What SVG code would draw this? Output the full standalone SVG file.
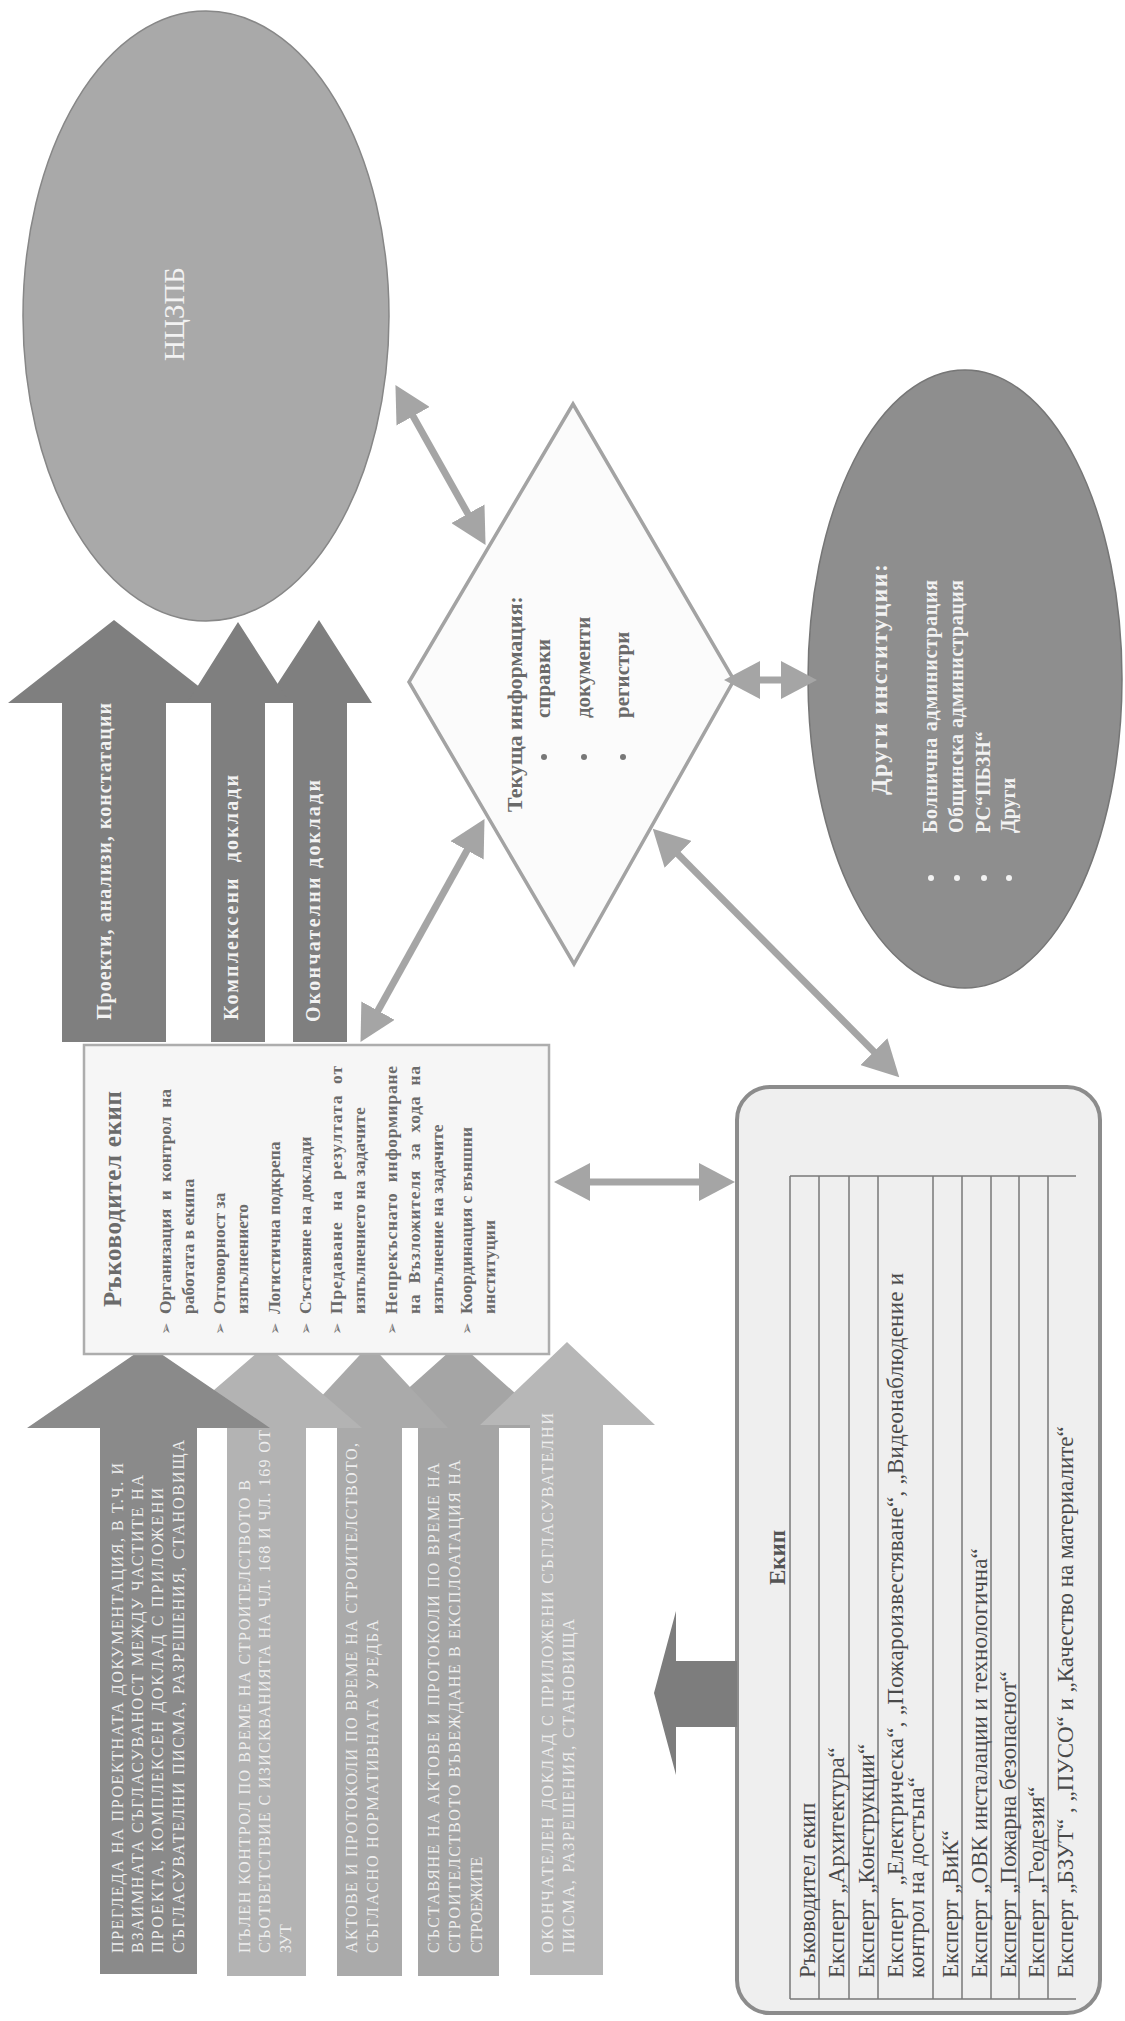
<svg xmlns="http://www.w3.org/2000/svg" width="1125" height="2021" viewBox="0 0 1125 2021">
<style>
text{font-family:"Liberation Serif","DejaVu Serif",serif}
.w{fill:#f2f2f2}
.b{font-weight:bold}
.ga{fill:#eeeeee;font-size:16px}
.rk{fill:#6b6b6b;font-weight:bold;font-size:17.5px}
.row{fill:#4a4a4a;font-size:23px}
.tl{stroke:#7a7a7a;stroke-width:1.5;fill:none}
.con{stroke:#a5a5a5;stroke-width:7;fill:none;marker-start:url(#ah);marker-end:url(#ah)}
.bul{fill:#777;font-size:15px;font-family:"DejaVu Sans",sans-serif}
</style>
<defs>
<marker id="ah" markerUnits="userSpaceOnUse" viewBox="0 0 36 38" refX="1" refY="19" markerWidth="36" markerHeight="38" orient="auto-start-reverse">
<path d="M0,0 L36,19 L0,38 z" fill="#a5a5a5"/>
</marker>
</defs>
<rect width="1125" height="2021" fill="#ffffff"/>

<g id="nczpb">
<ellipse cx="206" cy="316" rx="183" ry="305" fill="#a9a9a9" stroke="#878787" stroke-width="1.5"/>
<text class="w" transform="rotate(-90)" x="-361" y="184" font-size="29">НЦЗПБ</text>
</g>

<g id="drugi">
<ellipse cx="965" cy="679" rx="157" ry="309" fill="#8e8e8e" stroke="#767676" stroke-width="1.5"/>
<g transform="rotate(-90)" class="w b">
<text x="-795" y="887" font-size="24" textLength="231" lengthAdjust="spacing">Други институции:</text>
<text x="-833" y="937" font-size="20" textLength="253" lengthAdjust="spacing">Болнична администрация</text>
<text x="-833" y="963" font-size="20" textLength="253" lengthAdjust="spacing">Общинска администрация</text>
<text x="-833" y="990" font-size="20">РС“ПБЗН“</text>
<text x="-833" y="1015" font-size="20">Други</text>
</g>
<circle cx="931" cy="878" r="3" fill="#f2f2f2"/>
<circle cx="957" cy="878" r="3" fill="#f2f2f2"/>
<circle cx="984" cy="878" r="3" fill="#f2f2f2"/>
<circle cx="1009" cy="878" r="3" fill="#f2f2f2"/>
</g>

<g id="tekushta">
<polygon points="573,404 734,680 574,964 409,682" fill="#fbfbfb" stroke="#a3a3a3" stroke-width="3.5"/>
<g transform="rotate(-90)" fill="#6a6a6a" class="b">
<text x="-812" y="522" font-size="22">Текуща информация:</text>
<text x="-718" y="550" font-size="21">справки</text>
<text x="-718" y="590" font-size="21">документи</text>
<text x="-718" y="629" font-size="21">регистри</text>
</g>
<circle cx="544" cy="757" r="3" fill="#777"/>
<circle cx="584" cy="757" r="3" fill="#777"/>
<circle cx="623" cy="757" r="3" fill="#777"/>
</g>

<g id="izhodi">
<polygon points="62,1042 62,703 8,703 114,620 220,703 166,703 166,1042" fill="#7f7f7f"/>
<polygon points="293,1042 293,703 265,703 319,620 372,703 347,703 347,1042" fill="#7f7f7f"/>
<polygon points="211,1042 211,703 187,703 238,622 290,703 265,703 265,1042" fill="#7f7f7f"/>
<g transform="rotate(-90)" class="w b" font-size="20">
<text x="-1020" y="111" textLength="317" lengthAdjust="spacing">Проекти, анализи, констатации</text>
<text x="-1020" y="238" textLength="245" lengthAdjust="spacing" xml:space="preserve">Комплексени  доклади</text>
<text x="-1022" y="320" textLength="242" lengthAdjust="spacing">Окончателни доклади</text>
</g>
</g>

<g id="vhodi">
<g id="vhod-d">
<polygon points="418,1976 418,1428 364,1428 459,1343 554,1428 499,1428 499,1976" fill="#a5a5a5"/>
<g transform="rotate(-90)" class="ga">
<text x="-1953" y="439" textLength="490" lengthAdjust="spacing">СЪСТАВЯНЕ НА АКТОВЕ И ПРОТОКОЛИ ПО ВРЕМЕ  НА</text>
<text x="-1953" y="460" textLength="493" lengthAdjust="spacing">СТРОИТЕЛСТВОТО ВЪВЕЖДАНЕ В ЕКСПЛОАТАЦИЯ НА</text>
<text x="-1953" y="482">СТРОЕЖИТЕ</text>
</g>
</g>
<g id="vhod-c">
<polygon points="337,1976 337,1428 292,1428 370,1344 448,1428 402,1428 402,1976" fill="#aaaaaa"/>
<g transform="rotate(-90)" class="ga">
<text x="-1953" y="357" textLength="510" lengthAdjust="spacing">АКТОВЕ И ПРОТОКОЛИ ПО ВРЕМЕ НА СТРОИТЕЛСТВОТО,</text>
<text x="-1953" y="378" textLength="333" lengthAdjust="spacing">СЪГЛАСНО НОРМАТИВНАТА УРЕДБА</text>
</g>
</g>
<g id="vhod-b">
<polygon points="227,1976 227,1428 170,1428 266,1345 362,1428 306,1428 306,1976" fill="#b3b3b3"/>
<g transform="rotate(-90)" class="ga">
<text x="-1953" y="250" textLength="473" lengthAdjust="spacing">ПЪЛЕН КОНТРОЛ ПО ВРЕМЕ НА СТРОИТЕЛСТВОТО В</text>
<text x="-1953" y="270" textLength="523" lengthAdjust="spacing">СЪОТВЕТСТВИЕ С ИЗИСКВАНИЯТА НА ЧЛ. 168 И ЧЛ. 169 ОТ</text>
<text x="-1953" y="291">ЗУТ</text>
</g>
</g>
<g id="vhod-a">
<polygon points="100,1974 100,1428 27,1428 148,1345 270,1428 197,1428 197,1974" fill="#8a8a8a"/>
<g transform="rotate(-90)" class="ga">
<text x="-1953" y="123" textLength="490" lengthAdjust="spacing">ПРЕГЛЕДА НА ПРОЕКТНАТА ДОКУМЕНТАЦИЯ, В Т.Ч. И</text>
<text x="-1953" y="143" textLength="478" lengthAdjust="spacing">ВЗАИМНАТА СЪГЛАСУВАНОСТ МЕЖДУ ЧАСТИТЕ НА</text>
<text x="-1953" y="163" textLength="465" lengthAdjust="spacing">ПРОЕКТА, КОМПЛЕКСЕН ДОКЛАД С ПРИЛОЖЕНИ</text>
<text x="-1953" y="184" textLength="513" lengthAdjust="spacing">СЪГЛАСУВАТЕЛНИ ПИСМА, РАЗРЕШЕНИЯ, СТАНОВИЩА</text>
</g>
</g>
<g id="vhod-e">
<polygon points="530,1975 530,1425 480,1425 567,1342 655,1425 603,1425 603,1975" fill="#b7b7b7"/>
<g transform="rotate(-90)" class="ga">
<text x="-1953" y="553" textLength="540" lengthAdjust="spacing">ОКОНЧАТЕЛЕН ДОКЛАД С ПРИЛОЖЕНИ СЪГЛАСУВАТЕЛНИ</text>
<text x="-1953" y="574" textLength="334" lengthAdjust="spacing">ПИСМА, РАЗРЕШЕНИЯ, СТАНОВИЩА</text>
</g>
</g>
</g>

<g id="rakovoditel">
<rect x="84" y="1045" width="465" height="309" fill="#f6f6f6" stroke="#adadad" stroke-width="2.5"/>
<g transform="rotate(-90)">
<text x="-1307" y="121" fill="#6b6b6b" font-weight="bold" font-size="25" textLength="216" lengthAdjust="spacing">Ръководител екип</text>
<text class="bul" x="-1335" y="171">➢</text>
<text class="bul" x="-1335" y="225">➢</text>
<text class="bul" x="-1335" y="280">➢</text>
<text class="bul" x="-1335" y="311">➢</text>
<text class="bul" x="-1335" y="342">➢</text>
<text class="bul" x="-1335" y="397">➢</text>
<text class="bul" x="-1335" y="472">➢</text>
<g class="rk">
<text x="-1314" y="171" textLength="225" lengthAdjust="spacing" xml:space="preserve">Организация  и  контрол  на</text>
<text x="-1314" y="194">работата в екипа</text>
<text x="-1314" y="225">Отговорност за</text>
<text x="-1314" y="248">изпълнението</text>
<text x="-1314" y="280">Логистична подкрепа</text>
<text x="-1314" y="311">Съставяне на доклади</text>
<text x="-1314" y="342" textLength="248" lengthAdjust="spacing" xml:space="preserve">Предаване  на  резултата  от</text>
<text x="-1314" y="365">изпълнението на задачите</text>
<text x="-1314" y="397" textLength="248" lengthAdjust="spacing" xml:space="preserve">Непрекъснато  информиране</text>
<text x="-1314" y="420" textLength="248" lengthAdjust="spacing" xml:space="preserve">на  Възложителя  за  хода  на</text>
<text x="-1314" y="443">изпълнение на задачите</text>
<text x="-1314" y="472">Координация с външни</text>
<text x="-1314" y="495">институции</text>
</g>
</g>
</g>

<g id="ekip">
<rect x="737" y="1087" width="363" height="926" rx="33" ry="33" fill="#efefef" stroke="#8c8c8c" stroke-width="4"/>
<path class="tl" d="M790,1176 H1076 M790,1999 H1076 M790,1176 V1999 M819,1176 V1999 M849,1176 V1999 M878,1176 V1999 M933,1176 V1999 M962,1176 V1999 M991,1176 V1999 M1019,1176 V1999 M1048,1176 V1999"/>
<g transform="rotate(-90)">
<text x="-1585" y="785" fill="#555" font-weight="bold" font-size="23">Екип</text>
<g class="row">
<text x="-1978" y="815">Ръководител екип</text>
<text x="-1978" y="844">Експерт „Архитектура“</text>
<text x="-1978" y="874">Експерт „Конструкции“</text>
<text x="-1978" y="903" textLength="705" lengthAdjust="spacing" xml:space="preserve">Експерт  „Електрическа“, „Пожароизвестяване“, „Видеонаблюдение и</text>
<text x="-1978" y="924">контрол на достъпа“</text>
<text x="-1978" y="958">Експерт „ВиК“</text>
<text x="-1978" y="987">Експерт „ОВК инсталации и технологична“</text>
<text x="-1978" y="1016">Експерт „Пожарна безопаснот“</text>
<text x="-1978" y="1044">Експерт „Геодезия“</text>
<text x="-1978" y="1073">Експерт „БЗУТ“ , „ПУСО“ и „Качество на материалите“</text>
</g>
</g>
<polygon points="737,1661 676,1661 676,1611 654,1693 676,1775 676,1727 737,1727" fill="#7d7d7d"/>
</g>

<g id="connectors">
<line class="con" x1="412.6" y1="415.4" x2="468.4" y2="514.6"/>
<line class="con" x1="467.5" y1="849.5" x2="377.5" y2="1011.5"/>
<line class="con" x1="759" y1="680" x2="782" y2="680"/>
<line class="con" x1="677.4" y1="853.6" x2="874.6" y2="1052.4"/>
<line class="con" x1="589" y1="1182" x2="700" y2="1182"/>
</g>
</svg>
